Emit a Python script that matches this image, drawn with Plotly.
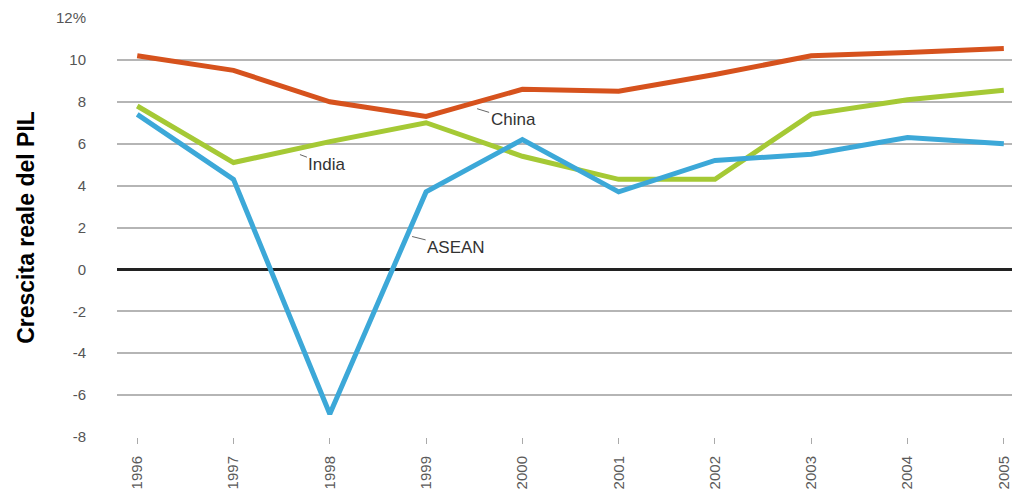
import plotly.graph_objects as go

years = [1996, 1997, 1998, 1999, 2000, 2001, 2002, 2003, 2004, 2005]
china = [10.2, 9.5, 8.0, 7.3, 8.6, 8.5, 9.3, 10.2, 10.35, 10.55]
india = [7.8, 5.1, 6.1, 7.0, 5.4, 4.3, 4.3, 7.4, 8.1, 8.55]
asean = [7.4, 4.3, -6.9, 3.7, 6.2, 3.7, 5.2, 5.5, 6.3, 6.0]

y_ticks = [-8, -6, -4, -2, 0, 2, 4, 6, 8, 10, 12]
y_ticktext = ["-8", "-6", "-4", "-2", "0", "2", "4", "6", "8", "10", "12%"]

series = [
    ("China", china, "#d6521d"),
    ("India", india, "#a5c935"),
    ("ASEAN", asean, "#3ca8d8"),
]

fig = go.Figure()
for name, vals, col in series:
    fig.add_trace(go.Scatter(x=years, y=vals, mode="lines", name=name,
                             line=dict(color=col, width=5), showlegend=False))

labels = [
    ("China", 1999.53, 7.67, 36, 11),
    ("India", 1997.69, 5.48, 27, 10),
    ("ASEAN", 1998.855, 1.57, 44, 11),
]
for txt, x, y, ax, ay in labels:
    fig.add_annotation(x=x, y=y, text=txt, showarrow=True, arrowhead=0,
                       arrowwidth=1, arrowcolor="#666", ax=ax, ay=ay,
                       font=dict(family="Liberation Sans, Arial", size=17, color="#333"))

fig.update_layout(
    width=1012, height=498,
    margin=dict(l=117, r=0, t=18, b=61),
    paper_bgcolor="white", plot_bgcolor="white",
    font=dict(family="Liberation Sans, Arial", color="#555"),
    xaxis=dict(range=[1995.79, 2005.085], tickvals=years, ticktext=[str(y) for y in years],
               tickangle=-90, tickfont=dict(size=15, color="#5a5a5a"),
               showgrid=False, ticks="outside", ticklen=6, tickcolor="#aaa",
               ticklabelstandoff=6,
               showline=False, zeroline=False, automargin=False),
    yaxis=dict(range=[-8, 12], tickvals=y_ticks, ticktext=y_ticktext,
               tickfont=dict(size=15, color="#555"), showgrid=True,
               gridcolor="#b5b5b5", gridwidth=1.5, zeroline=True,
               zerolinecolor="#222", zerolinewidth=2.5, ticks="", ticklabelstandoff=30,
               automargin=False,
               title=dict(text="<b>Crescita reale del PIL</b>",
                          font=dict(size=23, color="black"), standoff=14)),
)

fig.write_html("out.html", config={"displayModeBar": False},
               post_script="document.body.style.margin='0';")
